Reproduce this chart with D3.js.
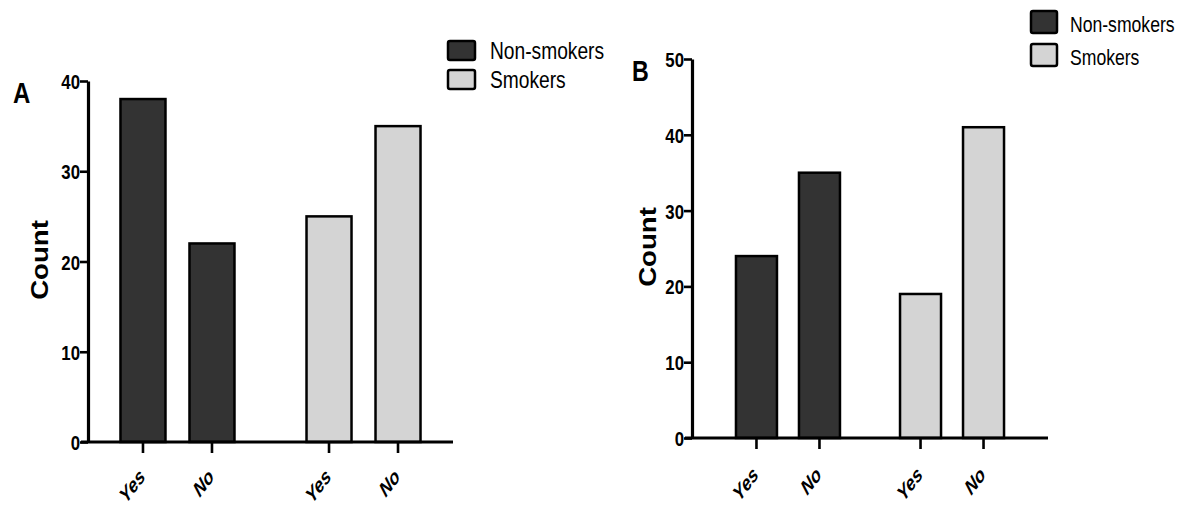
<!DOCTYPE html>
<html>
<head>
<meta charset="utf-8">
<script src="https://cdn.jsdelivr.net/npm/d3@7"></script>
<style>
  html, body { margin: 0; padding: 0; background: #ffffff; }
  svg { display: block; }
  text { fill: #000; }
</style>
</head>
<body>
<svg id="chart" width="1184" height="506"></svg>
<script>
// Groups and answers shown on both panels
const groups = ["Non-smokers", "Smokers"];
const answers = ["Yes", "No"];

// Counts per panel: [Yes, No] for each group
const panelANonSmokers = [38, 22];
const panelASmokers = [25, 35];
const panelBNonSmokers = [24, 35];
const panelBSmokers = [19, 41];

// Y tick values for each panel
const panelATicks = [0, 10, 20, 30, 40];
const panelBTicks = [0, 10, 20, 30, 40, 50];

const fills = { "Non-smokers": "#333333", "Smokers": "#d4d4d4" };
const font = "'Liberation Sans', Arial, sans-serif";
// horizontal squeeze used for the condensed lettering
const SQ = 0.8;

const svg = d3.select("#chart");

function buildRows(nonSmokers, smokers) {
  const rows = [];
  groups.forEach((g, gi) => {
    const vals = gi === 0 ? nonSmokers : smokers;
    answers.forEach((a, ai) => rows.push({ group: g, answer: a, value: vals[ai] }));
  });
  return rows;
}

function drawPanel(cfg) {
  const g = svg.append("g");
  const rows = buildRows(cfg.nonSmokers, cfg.smokers);

  const y = d3.scaleLinear().domain([0, d3.max(cfg.ticks)]).range([cfg.y0, cfg.y1]);
  const gx = d3.scalePoint().domain(groups).range([cfg.x0, cfg.x1]).padding(cfg.groupPad);
  const ix = d3.scalePoint().domain(answers).range([-cfg.inner / 2, cfg.inner / 2]);
  const xPos = d => gx(d.group) + ix(d.answer);

  // bars
  g.selectAll("rect.bar").data(rows).join("rect")
    .attr("class", "bar")
    .attr("x", d => xPos(d) - cfg.barW / 2)
    .attr("width", cfg.barW)
    .attr("y", d => y(d.value))
    .attr("height", d => y(0) - y(d.value))
    .attr("fill", d => fills[d.group])
    .attr("stroke", "#000")
    .attr("stroke-width", 2.5);

  // y axis
  const yAxis = g.append("g")
    .attr("transform", `translate(${cfg.x0},0)`)
    .call(d3.axisLeft(y).tickValues(cfg.ticks).tickSize(8).tickPadding(2).tickSizeOuter(0));
  yAxis.select(".domain").attr("stroke-width", 3.2);
  yAxis.selectAll(".tick line").attr("stroke-width", 2.6);
  yAxis.selectAll(".tick text")
    .attr("font-family", font).attr("font-weight", "bold")
    .attr("font-size", cfg.tickFont).attr("dy", "0.36em").attr("fill", "#000")
    .attr("transform", `scale(${SQ},1)`);

  // x axis
  const xAxis = g.append("g").attr("transform", `translate(0,${cfg.y0})`);
  xAxis.append("line")
    .attr("x1", cfg.x0 - 7).attr("x2", cfg.x1)
    .attr("stroke", "#000").attr("stroke-width", 3.2);
  xAxis.selectAll("line.tk").data(rows).join("line")
    .attr("class", "tk")
    .attr("x1", xPos).attr("x2", xPos)
    .attr("y1", 0).attr("y2", 11)
    .attr("stroke", "#000").attr("stroke-width", 2.6);
  g.selectAll("text.lab").data(rows).join("text")
    .attr("class", "lab")
    .attr("transform", d => `translate(${xPos(d) + 3},${cfg.labY}) scale(0.95,1.25) rotate(-45)`)
    .attr("text-anchor", "end")
    .attr("font-family", font).attr("font-weight", "bold").attr("font-style", "italic")
    .attr("font-size", 17)
    .text(d => d.answer);

  // axis title
  g.append("text")
    .attr("transform", `translate(${cfg.titleX},${cfg.titleY}) rotate(-90) scale(1.2,1)`)
    .attr("text-anchor", "middle")
    .attr("font-family", font).attr("font-weight", "bold").attr("font-size", 23)
    .text("Count");

  // panel letter
  g.append("text")
    .attr("transform", `translate(${cfg.letterX},${cfg.letterY}) scale(${SQ},1)`)
    .attr("font-family", font).attr("font-weight", "bold").attr("font-size", cfg.letterFont)
    .text(cfg.letter);

  // legend
  const leg = g.append("g");
  groups.forEach((name, i) => {
    const row = leg.append("g").attr("transform", `translate(${cfg.legX},${cfg.legY + i * cfg.legStep})`);
    row.append("rect")
      .attr("x", 0).attr("y", 0).attr("width", cfg.legBoxW).attr("height", cfg.legBoxH)
      .attr("rx", 2)
      .attr("fill", fills[name]).attr("stroke", "#000").attr("stroke-width", 2.5);
    row.append("text")
      .attr("transform", `translate(${cfg.legTextDx},${cfg.legBoxH - 1}) scale(${SQ},1)`)
      .attr("font-family", font).attr("font-size", cfg.legFont)
      .text(name);
  });
}

drawPanel({
  nonSmokers: panelANonSmokers, smokers: panelASmokers, ticks: panelATicks,
  x0: 88, x1: 453, y0: 442, y1: 81, groupPad: 0.481, inner: 69, barW: 45,
  tickFont: 21, labY: 478, titleX: 48, titleY: 260,
  letter: "A", letterX: 13, letterY: 103, letterFont: 30,
  legX: 448, legY: 41, legStep: 29, legBoxW: 27, legBoxH: 19, legTextDx: 42, legFont: 24
});

drawPanel({
  nonSmokers: panelBNonSmokers, smokers: panelBSmokers, ticks: panelBTicks,
  x0: 692, x1: 1048, y0: 438, y1: 59, groupPad: 0.585, inner: 63, barW: 41,
  tickFont: 21, labY: 476, titleX: 656, titleY: 247,
  letter: "B", letterX: 632, letterY: 81, letterFont: 29,
  legX: 1031, legY: 11, legStep: 33, legBoxW: 26, legBoxH: 22, legTextDx: 39, legFont: 22
});
</script>
</body>
</html>
